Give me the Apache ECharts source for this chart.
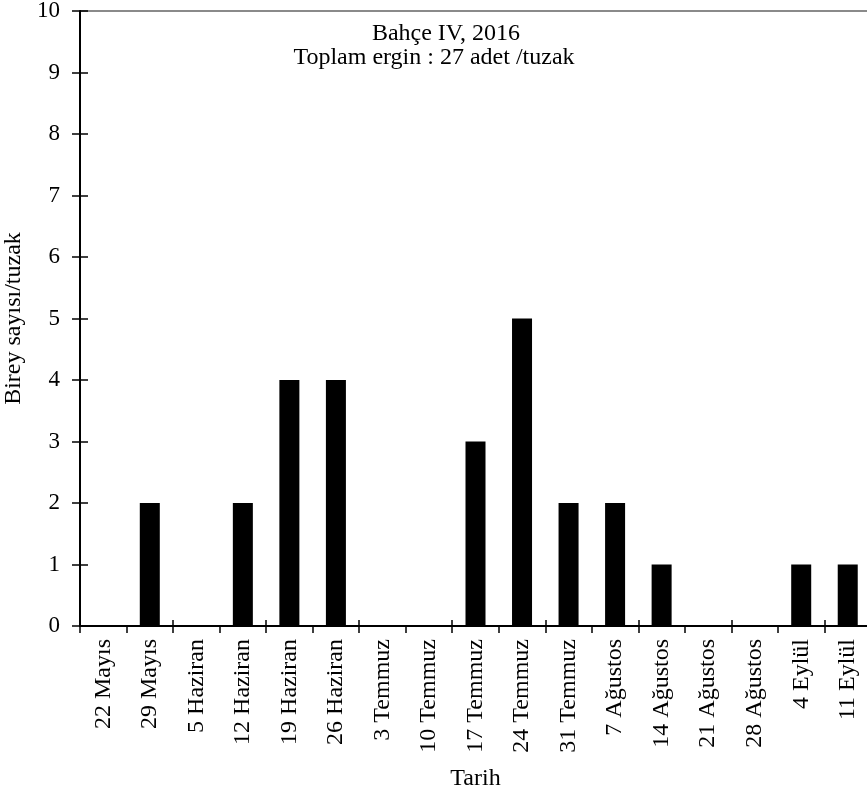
<!DOCTYPE html>
<html><head><meta charset="utf-8">
<script src="https://cdn.jsdelivr.net/npm/echarts@6/dist/echarts.min.js"></script>
<style>html,body{margin:0;padding:0;background:#fff}#c{width:867px;height:793px}</style>
</head><body><div id="c"></div>
<script>
const categories = ['22 Mayıs','29 Mayıs','5 Haziran','12 Haziran','19 Haziran','26 Haziran','3 Temmuz','10 Temmuz','17 Temmuz','24 Temmuz','31 Temmuz','7 Ağustos','14 Ağustos','21 Ağustos','28 Ağustos','4 Eylül','11 Eylül'];
const values = [0,2,0,2,4,4,0,0,3,5,2,2,1,0,0,1,1];
const titleLines = ['Bahçe IV, 2016','Toplam ergin : 27 adet /tuzak'];
const xName = 'Tarih';
const yName = 'Birey sayısı/tuzak';

const font = 'Liberation Serif';
const chart = echarts.init(document.getElementById('c'));
const splitColors = [];
for (let i = 0; i <= 10; i++) splitColors.push(i === 10 ? '#8a8a8a' : 'rgba(0,0,0,0)');
const tStyle = {fontFamily: font, fontSize: 24, fontWeight: 'normal', color: '#000'};
chart.setOption({
  animation: false,
  textStyle: {fontFamily: font, color: '#000'},
  title: [
    {text: titleLines[0], left: 446, top: 22, textAlign: 'center', padding: 0, textStyle: tStyle},
    {text: titleLines[1], left: 434, top: 46, textAlign: 'center', padding: 0, textStyle: tStyle}
  ],
  grid: {left: 80, right: -4, top: 11, bottom: 167, containLabel: false, outerBoundsMode: 'none'},
  xAxis: [{
    type: 'category', data: categories,
    axisLine: {lineStyle: {color: '#000', width: 2}},
    axisTick: {show: true, inside: false, length: 7, lineStyle: {color: '#000', width: 1.5}},
    axisLabel: {rotate: 90, fontSize: 24, color: '#000', fontFamily: font, margin: 13, interval: 0},
    name: xName, nameLocation: 'middle', nameGap: 141,
    nameTextStyle: {fontSize: 24, color: '#000', fontFamily: font}
  }, {
    type: 'category', data: categories, position: 'bottom',
    axisLine: {show: false},
    axisTick: {show: true, inside: true, length: 6, lineStyle: {color: '#000', width: 1.5}},
    axisLabel: {show: false}
  }],
  yAxis: [{
    type: 'value', min: 0, max: 10, interval: 1,
    axisLine: {show: true, lineStyle: {color: '#000', width: 2}},
    axisTick: {show: true, inside: false, length: 8, lineStyle: {color: '#000', width: 1.5}},
    axisLabel: {fontSize: 23, color: '#000', fontFamily: font, margin: 20},
    splitLine: {show: true, lineStyle: {color: splitColors, width: 2}},
    name: yName, nameLocation: 'middle', nameGap: 47, nameRotate: 90,
    nameTextStyle: {fontSize: 24, color: '#000', fontFamily: font}
  }, {
    type: 'value', min: 0, max: 10, interval: 1, position: 'left',
    axisLine: {show: false},
    axisTick: {show: true, inside: true, length: 8, lineStyle: {color: '#000', width: 1.5}},
    axisLabel: {show: false}, splitLine: {show: false}
  }],
  series: [{
    type: 'bar', data: values, barWidth: '43%',
    itemStyle: {color: '#000'}
  }]
});
</script></body></html>
